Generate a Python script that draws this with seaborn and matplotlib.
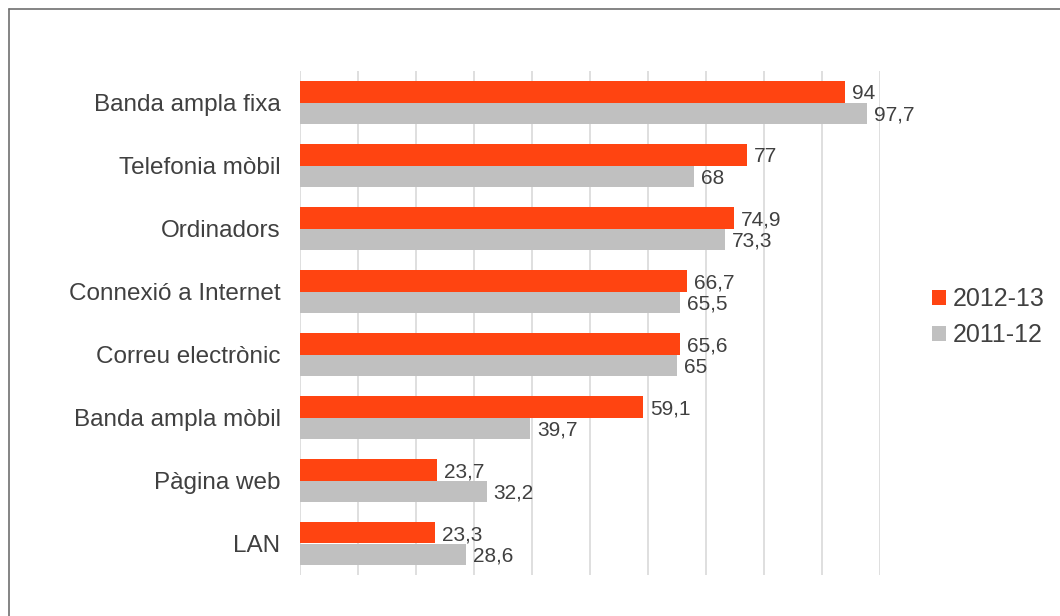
import matplotlib
matplotlib.use("Agg")
import matplotlib.pyplot as plt
import seaborn as sns
import pandas as pd
from matplotlib.lines import Line2D

categories = ["Banda ampla fixa", "Telefonia mòbil", "Ordinadors", "Connexió a Internet",
              "Correu electrònic", "Banda ampla mòbil", "Pàgina web", "LAN"]
series_names = ["2012-13", "2011-12"]
values_2012_13 = [94, 77, 74.9, 66.7, 65.6, 59.1, 23.7, 23.3]
values_2011_12 = [97.7, 68, 73.3, 65.5, 65, 39.7, 32.2, 28.6]

colors = {"2012-13": "#FF4411", "2011-12": "#C0C0C0"}
text_color = "#404040"

sns.set_theme(style="white")
plt.rcParams["font.family"] = ["Liberation Sans", "DejaVu Sans"]

rows = []
for c, a, b in zip(categories, values_2012_13, values_2011_12):
    rows.append({"cat": c, "val": a, "year": series_names[0]})
    rows.append({"cat": c, "val": b, "year": series_names[1]})
df = pd.DataFrame(rows)

W, H = 1060, 616
fig = plt.figure(figsize=(W / 100, H / 100), dpi=100)
ax = fig.add_axes([300 / W, 1 - 575 / H, 580 / W, 504 / H])

sns.barplot(data=df, y="cat", x="val", hue="year", order=categories,
            hue_order=series_names, palette=colors, width=0.68,
            saturation=1, orient="h", ax=ax, legend=True, linewidth=0)

ax.set_xlim(0, 100)
ax.set_xticks(range(0, 101, 10))
ax.set_xticklabels([])
ax.grid(axis="x", color="#D9D9D9", linewidth=1.2)
ax.set_axisbelow(True)
for s in ax.spines.values():
    s.set_visible(False)
ax.set_xlabel("")
ax.set_ylabel("")
ax.tick_params(axis="y", length=0, pad=14, labelsize=17.5, labelcolor=text_color)
ax.tick_params(axis="x", length=0)
ax.set_ylim(len(categories) - 0.5, -0.5)

for cont in ax.containers:
    labels = [f"{v:g}".replace(".", ",") for v in cont.datavalues]
    texts = ax.bar_label(cont, labels=labels, padding=5, fontsize=15, color=text_color)
    for t in texts:
        t.xyann = (t.xyann[0], -1.5)

leg = ax.legend(loc="center left", bbox_to_anchor=(922 / W, 1 - 317.5 / H),
                bbox_transform=fig.transFigure, frameon=False, fontsize=18,
                handlelength=0.55, handleheight=0.55, handletextpad=0.3,
                labelspacing=0.48, borderaxespad=0)
for t in leg.get_texts():
    t.set_color(text_color)
for h in leg.legend_handles:
    h.set_linewidth(0)

x0, y0 = 8.5 / W, 1 - 9 / H
fig.add_artist(Line2D([x0, x0], [0, y0], transform=fig.transFigure,
                      color="#707070", linewidth=1.2))
fig.add_artist(Line2D([x0, 1.0], [y0, y0], transform=fig.transFigure,
                      color="#707070", linewidth=1.2))

fig.savefig("out.png", dpi=100, facecolor="white")
